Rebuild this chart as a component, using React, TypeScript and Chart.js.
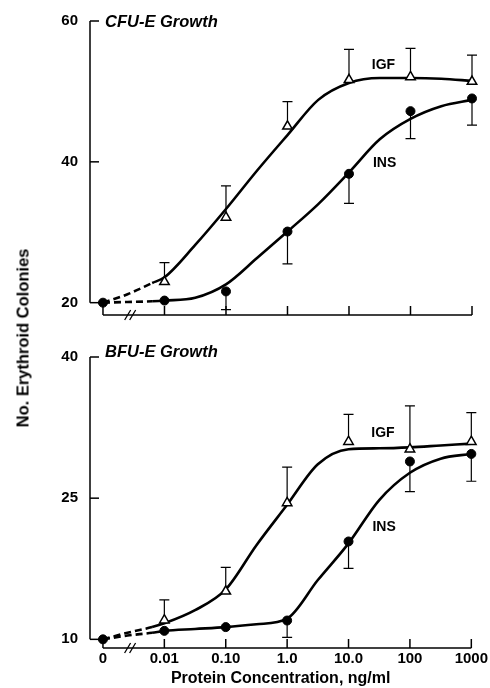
import React, { useEffect, useRef } from 'react';
import { Chart, registerables } from 'chart.js';

Chart.register(...registerables);

// ---------- data ----------
const xTickLabels = ['0', '0.01', '0.10', '1.0', '10.0', '100', '1000'];
const xPositions = [0, 1, 2, 3, 4, 5, 6];

// CFU-E panel
const cfuYTicks = [20, 40, 60];
const cfuIgf = [null, 22.96, 32.1, 45.05, 51.65, 52.05, 51.4];
const cfuIgfErrTop = [null, 25.7, 36.6, 48.55, 55.96, 56.1, 55.15];
const cfuIns = [20, 20.3, 21.6, 30.1, 38.3, 47.2, 49.0];
const cfuInsErrBottom = [null, null, 19.0, 25.5, 34.1, 43.3, 45.2];

// fitted curves
const curveX = [0, 0.4, 0.8, 1, 1.5, 2, 2.5, 3, 3.5, 4, 4.5, 5, 5.5, 6];
const cfuIgfCurve = [20, 21.2, 22.8, 23.6, 28.2, 33.3, 38.7, 43.8, 48.8, 51.2, 51.9, 51.9, 51.8, 51.5];
const cfuInsCurve = [20, 20.1, 20.2, 20.3, 20.7, 22.6, 26.3, 30.1, 34.0, 38.5, 43.2, 46.1, 47.9, 48.8];

// BFU-E panel
const bfuYTicks = [10, 25, 40];
const bfuIgf = [null, 12.04, 15.1, 24.5, 31.0, 30.2, 31.0];
const bfuIgfErrTop = [null, 14.2, 17.65, 28.3, 33.9, 34.8, 34.1];
const bfuIns = [10, 10.9, 11.3, 12.0, 20.4, 28.9, 29.7];
const bfuInsErrBottom = [null, null, null, 10.2, 17.55, 25.7, 26.8];
const bfuIgfCurve = [10, 10.7, 11.3, 11.7, 13.1, 15.3, 20.0, 24.3, 28.6, 30.2, 30.3, 30.4, 30.6, 30.8];
const bfuInsCurve = [10, 10.4, 10.7, 10.9, 11.1, 11.3, 11.6, 12.2, 16.3, 20.2, 24.8, 27.7, 29.2, 29.7];

const FONT = 'Liberation Sans';

type PanelCfg = {
  title: string;
  yTicks: number[];
  igf: (number | null)[];
  igfErr: (number | null)[];
  ins: (number | null)[];
  insErr: (number | null)[];
  igfCurve: number[];
  insCurve: number[];
  igfLabel: [number, number];
  insLabel: [number, number];
  yMin: number;
  showXLabels: boolean;
  topPad: number;
  xHeight: number;
  titleY: number;
};

const toPts = (xs: number[], ys: (number | null)[]) =>
  xs.map((x, i) => ({ x, y: ys[i] as number | null }));

function makeDecoPlugin(cfg: PanelCfg) {
  return {
    id: 'panelDeco',
    beforeDatasetsDraw(chart: any) {
      const { ctx, chartArea } = chart;
      const x = chart.scales.x;
      const y = chart.scales.y;
      ctx.save();
      ctx.strokeStyle = '#000';
      ctx.lineWidth = 1.5;
      ctx.lineCap = 'butt';
      // y axis line
      const left = chartArea.left;
      const yTopPx = y.getPixelForValue(cfg.yTicks[cfg.yTicks.length - 1]);
      const yBotPx = y.getPixelForValue(cfg.yTicks[0]);
      ctx.beginPath();
      ctx.moveTo(left, yTopPx);
      ctx.lineTo(left, yBotPx);
      ctx.stroke();
      // inward y ticks
      cfg.yTicks.forEach((v) => {
        const py = y.getPixelForValue(v);
        ctx.beginPath();
        ctx.moveTo(left, py);
        ctx.lineTo(left + 9, py);
        ctx.stroke();
      });
      // x axis line
      const bottom = chartArea.bottom;
      const x0 = x.getPixelForValue(xPositions[0]);
      const x1 = x.getPixelForValue(xPositions[xPositions.length - 1]);
      ctx.beginPath();
      ctx.moveTo(x0, bottom);
      ctx.lineTo(x1, bottom);
      ctx.stroke();
      xPositions.forEach((v) => {
        const px = x.getPixelForValue(v);
        ctx.beginPath();
        ctx.moveTo(px, bottom);
        ctx.lineTo(px, bottom - 9);
        ctx.stroke();
      });
      // axis break //
      const bx = x.getPixelForValue(0.45);
      ctx.lineWidth = 1.3;
      [-3, 2].forEach((d) => {
        ctx.beginPath();
        ctx.moveTo(bx + d - 3, bottom + 5);
        ctx.lineTo(bx + d + 3, bottom - 5);
        ctx.stroke();
      });
      // error bars
      ctx.lineWidth = 1.2;
      const cap = 5;
      const bar = (xv: number, v: number, e: number) => {
        const px = x.getPixelForValue(xv);
        const p1 = y.getPixelForValue(v);
        const p2 = y.getPixelForValue(e);
        ctx.beginPath();
        ctx.moveTo(px, p1);
        ctx.lineTo(px, p2);
        ctx.moveTo(px - cap, p2);
        ctx.lineTo(px + cap, p2);
        ctx.stroke();
      };
      xPositions.forEach((xv, i) => {
        const a = cfg.igf[i];
        const ae = cfg.igfErr[i];
        if (a != null && ae != null) bar(xv, a, ae);
        const b = cfg.ins[i];
        const be = cfg.insErr[i];
        if (b != null && be != null) bar(xv, b, be);
      });
      ctx.restore();
    },
    afterDatasetsDraw(chart: any) {
      const { ctx, chartArea } = chart;
      const x = chart.scales.x;
      const y = chart.scales.y;
      ctx.save();
      ctx.fillStyle = '#000';
      ctx.textBaseline = 'middle';
      ctx.textAlign = 'left';
      ctx.font = `italic bold 16.5px "${FONT}"`;
      ctx.fillText(cfg.title, chartArea.left + 15, cfg.titleY);
      ctx.font = `bold 14px "${FONT}"`;
      ctx.fillText('IGF', x.getPixelForValue(cfg.igfLabel[0]), y.getPixelForValue(cfg.igfLabel[1]));
      ctx.fillText('INS', x.getPixelForValue(cfg.insLabel[0]), y.getPixelForValue(cfg.insLabel[1]));
      ctx.restore();
    },
  };
}

function Panel({ cfg, width, height }: { cfg: PanelCfg; width: number; height: number }) {
  const ref = useRef<HTMLCanvasElement | null>(null);
  useEffect(() => {
    if (!ref.current) return;
    const tickFont = { family: FONT, weight: 'bold' as const, size: 15 };
    const titleFont = { family: FONT, weight: 'bold' as const, size: 16 };
    const dashSeg = {
      borderDash: (c: any) => (c.p1.parsed.x <= 0.81 ? [7, 4] : undefined),
    };
    const chart = new Chart(ref.current, {
      type: 'line',
      data: {
        datasets: [
          {
            label: 'INS points',
            data: toPts(xPositions, cfg.ins),
            showLine: false,
            pointStyle: 'circle',
            pointRadius: 4.5,
            pointBackgroundColor: '#000',
            pointBorderColor: '#000',
            pointBorderWidth: 1,
          },
          {
            label: 'IGF points',
            data: toPts(xPositions, cfg.igf),
            showLine: false,
            pointStyle: 'triangle',
            pointRadius: 5.5,
            pointBackgroundColor: '#fff',
            pointBorderColor: '#000',
            pointBorderWidth: 1.5,
          },
          {
            label: 'IGF curve',
            data: toPts(curveX, cfg.igfCurve),
            borderColor: '#000',
            borderWidth: 2.6,
            pointRadius: 0,
            cubicInterpolationMode: 'monotone',
            segment: dashSeg,
          },
          {
            label: 'INS curve',
            data: toPts(curveX, cfg.insCurve),
            borderColor: '#000',
            borderWidth: 2.6,
            pointRadius: 0,
            cubicInterpolationMode: 'monotone',
            segment: dashSeg,
          },
        ] as any,
      },
      options: {
        responsive: false,
        animation: false,
        devicePixelRatio: 1,
        clip: false as any,
        layout: { padding: { left: 0, right: 18, top: cfg.topPad, bottom: 0 } },
        plugins: { legend: { display: false }, tooltip: { enabled: false } },
        scales: {
          x: {
            type: 'linear',
            min: -0.211,
            max: 6,
            afterBuildTicks: (s: any) => {
              s.ticks = xPositions.map((v) => ({ value: v }));
            },
            afterFit: (s: any) => {
              s.height = cfg.xHeight;
            },
            grid: { display: false, drawTicks: false },
            border: { display: false },
            ticks: {
              display: cfg.showXLabels,
              padding: 2,
              color: '#000',
              font: tickFont,
              maxRotation: 0,
              autoSkip: false,
              callback: (v: any) => xTickLabels[Math.round(Number(v))],
            },
            title: {
              display: cfg.showXLabels,
              text: 'Protein Concentration, ng/ml',
              color: '#000',
              font: titleFont,
              padding: { top: 0, bottom: 0 },
            },
          },
          y: {
            type: 'linear',
            min: cfg.yMin,
            max: cfg.yTicks[cfg.yTicks.length - 1],
            afterBuildTicks: (s: any) => {
              s.ticks = cfg.yTicks.map((v) => ({ value: v }));
            },
            afterFit: (s: any) => {
              s.width = 90;
            },
            grid: { display: false, drawTicks: false },
            border: { display: false },
            ticks: { padding: 12, color: '#000', font: tickFont },
          },
        },
      } as any,
      plugins: [makeDecoPlugin(cfg)],
    });
    return () => chart.destroy();
  }, [cfg]);
  return <canvas ref={ref} width={width} height={height} style={{ display: 'block', width, height }} />;
}

const topCfg: PanelCfg = {
  title: 'CFU-E Growth',
  yTicks: cfuYTicks,
  igf: cfuIgf,
  igfErr: cfuIgfErrTop,
  ins: cfuIns,
  insErr: cfuInsErrBottom,
  igfCurve: cfuIgfCurve,
  insCurve: cfuInsCurve,
  igfLabel: [4.37, 53.8],
  insLabel: [4.39, 39.8],
  yMin: 18.25,
  showXLabels: false,
  topPad: 17,
  xHeight: 9,
  titleY: 22,
};

const bottomCfg: PanelCfg = {
  title: 'BFU-E Growth',
  yTicks: bfuYTicks,
  igf: bfuIgf,
  igfErr: bfuIgfErrTop,
  ins: bfuIns,
  insErr: bfuInsErrBottom,
  igfCurve: bfuIgfCurve,
  insCurve: bfuInsCurve,
  igfLabel: [4.37, 31.9],
  insLabel: [4.39, 21.9],
  yMin: 9.08,
  showXLabels: true,
  topPad: 9,
  xHeight: 40,
  titleY: 16,
};

export default function App() {
  return (
    <div style={{ position: 'absolute', left: 0, top: 0, width: 490, height: 688, background: '#fff' }}>
      <div style={{ position: 'absolute', left: 0, top: 0 }}>
        <Panel cfg={topCfg} width={490} height={336} />
      </div>
      <div style={{ position: 'absolute', left: 0, top: 336 }}>
        <Panel cfg={bottomCfg} width={490} height={352} />
      </div>
      <div
        style={{
          position: 'absolute',
          left: 23,
          top: 338,
          transform: 'translate(-50%, -50%) rotate(-90deg)',
          whiteSpace: 'nowrap',
          font: `bold 16.5px "${FONT}"`,
          color: '#000',
        }}
      >
        No. Erythroid Colonies
      </div>
    </div>
  );
}
